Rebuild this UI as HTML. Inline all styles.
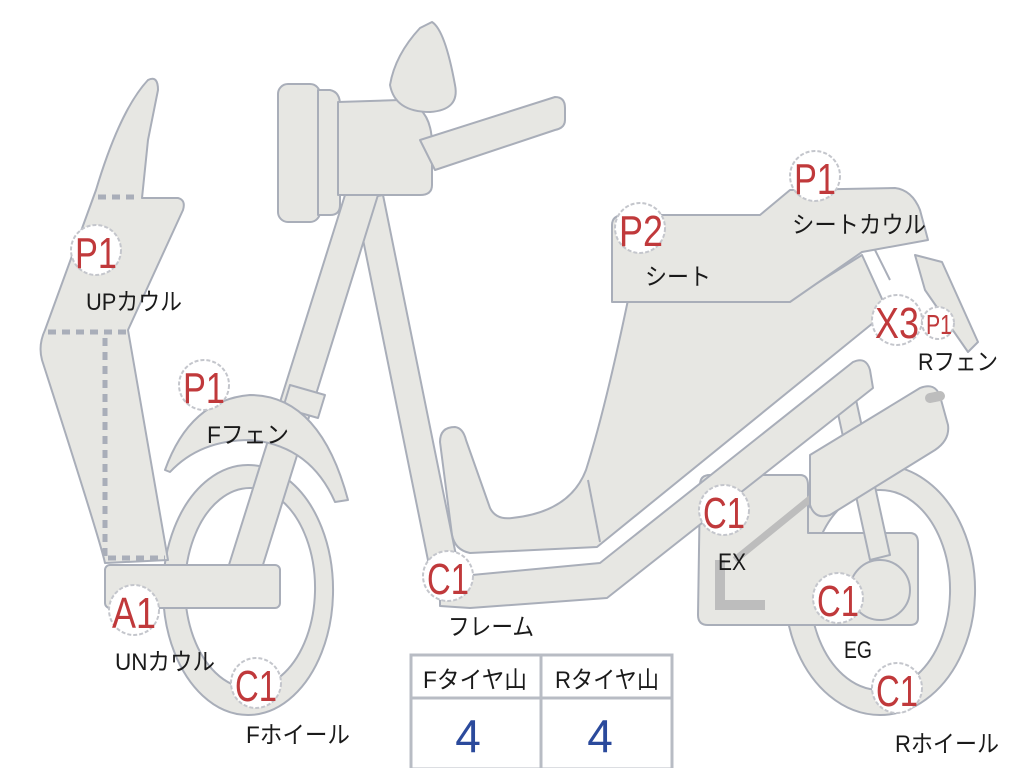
<!DOCTYPE html>
<html><head><meta charset="utf-8"><style>
html,body{margin:0;padding:0;background:#fff;width:1024px;height:768px;overflow:hidden}
svg{display:block}
.s{fill:#e7e7e3;stroke:#a9aeb9;stroke-width:2;stroke-linejoin:round}
.b{fill:#fff;stroke:#c4c6cc;stroke-width:2;stroke-dasharray:4 2}
.r{fill:#c0393b;font-family:"Liberation Sans",sans-serif;font-size:44px}
.l{fill:#1a1a1a;font-family:"Liberation Sans","Noto Sans CJK JP",sans-serif;font-size:24px}
.d{stroke:#a9aeb9;stroke-width:5;stroke-dasharray:8 6;fill:none}
</style></head><body>
<svg width="1024" height="768" viewBox="0 0 1024 768" xmlns="http://www.w3.org/2000/svg">
<!-- rear wheel -->
<path class="s" fill-rule="evenodd" d="M880,465 a95,125 0 1,0 0.1,0 Z M880,490 a70,100 0 1,0 0.1,0 Z"/>
<!-- rear fender -->
<path class="s" d="M915,255 L942,262 L978,342 L968,352 L925,290 Z"/>
<!-- rear body -->
<path class="s" d="M628,300 L790,300 L862,255 L888,312 L873,323 L597,547 L470,553 Q455,550 452,535 L440,442 Q440,427 455,427 Q463,428 466,440 L490,508 Q496,520 512,518 Q570,512 586,470 Q605,410 628,300 Z"/>
<path class="s" d="M588,480 L600,542" fill="none"/>
<!-- seat -->
<path class="s" d="M612,225 Q612,215 625,215 L760,215 L790,190 L895,188 Q912,190 920,210 L928,240 L862,252 L790,302 L612,302 Z"/>
<path class="s" d="M875,250 L890,280"/>
<!-- engine box -->
<path class="s" d="M700,485 Q700,475 710,475 L800,475 Q808,475 808,485 L808,533 L910,533 Q918,533 918,543 L918,618 Q918,625 910,625 L708,625 Q698,625 698,615 Z"/>
<!-- link -->
<path class="s" d="M835,400 L855,395 L890,555 L870,560 Z"/>
<circle class="s" cx="880" cy="590" r="30"/>
<!-- lower frame -->
<path class="s" d="M440,578 L600,563 L853,362 Q866,356 870,370 L873,388 L607,598 L470,608 L440,606 Z"/>
<path d="M720,560 L720,605 L765,605" stroke="#bdbdbd" stroke-width="10" fill="none"/>
<path d="M735,560 L815,495" stroke="#bdbdbd" stroke-width="7" fill="none"/>
<path class="s" d="M810,455 L920,388 Q935,382 940,396 L948,425 Q950,440 935,450 L830,515 Q815,520 810,505 Z"/>
<path d="M930,398 L940,396" stroke="#bdbdbd" stroke-width="10" stroke-linecap="round"/>
<!-- down tube -->
<path class="s" d="M355,200 L383,195 L460,575 L432,580 Z"/>
<!-- front wheel -->
<path class="s" fill-rule="evenodd" d="M248,465 a85,125 0 1,0 0.1,0 Z M250,488 a65,100 0 1,0 0.1,0 Z"/>
<!-- fork -->
<path class="s" d="M345,195 L378,195 L262,568 L228,568 Z"/>
<path class="s" d="M290,385 L325,395 L318,418 L283,408 Z"/>
<!-- front fender -->
<path class="s" d="M165,470 Q190,400 250,395 Q320,395 348,500 L335,502 Q310,445 250,440 Q200,440 170,472 Z"/>
<!-- front cowl -->
<path class="s" d="M96,190 Q120,110 148,80 Q158,75 158,90 L148,140 L142,198 L178,198 Q186,200 183,210 L128,330 L168,560 L105,563 Q100,540 42,360 Q38,345 45,330 Z"/>
<path class="d" d="M98,197 L140,197 M48,332 L128,332 M105,338 L105,558 M108,558 L165,558"/>
<!-- under cowl -->
<rect class="s" x="105" y="565" width="175" height="43" rx="5"/>
<!-- headlight -->
<rect class="s" x="278" y="84" width="42" height="138" rx="10"/>
<path class="s" d="M318,90 L330,90 Q340,92 340,105 L340,205 Q340,215 330,215 L318,215 Z"/>
<path class="s" d="M338,102 L400,100 Q432,105 432,145 L432,185 Q432,195 420,195 L338,195 Z"/>
<path class="s" d="M420,140 L555,97 Q565,97 565,108 L565,120 Q565,128 555,130 L435,170 Z"/>
<path class="s" d="M432,22 Q445,30 455,85 Q460,110 430,112 Q395,112 390,85 Q395,55 420,28 Z"/>
<!-- badges -->
<g>
<circle class="b" cx="96" cy="250" r="25"/><text class="r" x="75" y="268" textLength="42" lengthAdjust="spacingAndGlyphs">P1</text>
<circle class="b" cx="204" cy="385" r="25"/><text class="r" x="183" y="403" textLength="42" lengthAdjust="spacingAndGlyphs">P1</text>
<circle class="b" cx="134" cy="610" r="25"/><text class="r" x="112" y="628" textLength="44" lengthAdjust="spacingAndGlyphs">A1</text>
<circle class="b" cx="256" cy="683" r="25"/><text class="r" x="235" y="701" textLength="42" lengthAdjust="spacingAndGlyphs">C1</text>
<circle class="b" cx="448" cy="576" r="25"/><text class="r" x="427" y="594" textLength="42" lengthAdjust="spacingAndGlyphs">C1</text>
<circle class="b" cx="640" cy="228" r="25"/><text class="r" x="619" y="246" textLength="44" lengthAdjust="spacingAndGlyphs">P2</text>
<circle class="b" cx="815" cy="176" r="25"/><text class="r" x="794" y="194" textLength="42" lengthAdjust="spacingAndGlyphs">P1</text>
<circle class="b" cx="897" cy="320" r="25"/><text class="r" x="875" y="338" textLength="44" lengthAdjust="spacingAndGlyphs">X3</text>
<circle class="b" cx="938" cy="323" r="16"/><text class="r" x="926" y="334" style="font-size:28px" textLength="26" lengthAdjust="spacingAndGlyphs">P1</text>
<circle class="b" cx="724" cy="510" r="25"/><text class="r" x="703" y="528" textLength="42" lengthAdjust="spacingAndGlyphs">C1</text>
<circle class="b" cx="838" cy="598" r="25"/><text class="r" x="817" y="616" textLength="42" lengthAdjust="spacingAndGlyphs">C1</text>
<circle class="b" cx="897" cy="688" r="25"/><text class="r" x="876" y="706" textLength="42" lengthAdjust="spacingAndGlyphs">C1</text>
</g>
<g>
<text class="l" x="86" y="310" textLength="96" lengthAdjust="spacingAndGlyphs">UPカウル</text>
<text class="l" x="207" y="443" textLength="82" lengthAdjust="spacingAndGlyphs">Fフェン</text>
<text class="l" x="115" y="670" textLength="100" lengthAdjust="spacingAndGlyphs">UNカウル</text>
<text class="l" x="246" y="743" textLength="104" lengthAdjust="spacingAndGlyphs">Fホイール</text>
<text class="l" x="448" y="635" textLength="86" lengthAdjust="spacingAndGlyphs">フレーム</text>
<text class="l" x="645" y="285" textLength="66" lengthAdjust="spacingAndGlyphs">シート</text>
<text class="l" x="792" y="233" textLength="134" lengthAdjust="spacingAndGlyphs">シートカウル</text>
<text class="l" x="918" y="370" textLength="80" lengthAdjust="spacingAndGlyphs">Rフェン</text>
<text class="l" x="718" y="570" textLength="28" lengthAdjust="spacingAndGlyphs">EX</text>
<text class="l" x="844" y="658" textLength="28" lengthAdjust="spacingAndGlyphs">EG</text>
<text class="l" x="895" y="752" textLength="104" lengthAdjust="spacingAndGlyphs">Rホイール</text>
</g>
<!-- table -->
<rect x="411" y="655" width="261" height="114" fill="#fff" stroke="#b8bcc4" stroke-width="3"/>
<line x1="411" y1="698" x2="672" y2="698" stroke="#b8bcc4" stroke-width="3"/>
<line x1="541" y1="655" x2="541" y2="768" stroke="#b8bcc4" stroke-width="3"/>
<text class="l" x="423" y="688" textLength="104" lengthAdjust="spacingAndGlyphs">Fタイヤ山</text>
<text class="l" x="555" y="688" textLength="104" lengthAdjust="spacingAndGlyphs">Rタイヤ山</text>
<text x="468" y="752" fill="#2b4a9c" font-family="Liberation Sans,sans-serif" font-size="46" text-anchor="middle">4</text>
<text x="600" y="752" fill="#2b4a9c" font-family="Liberation Sans,sans-serif" font-size="46" text-anchor="middle">4</text>
</svg>
</body></html>
